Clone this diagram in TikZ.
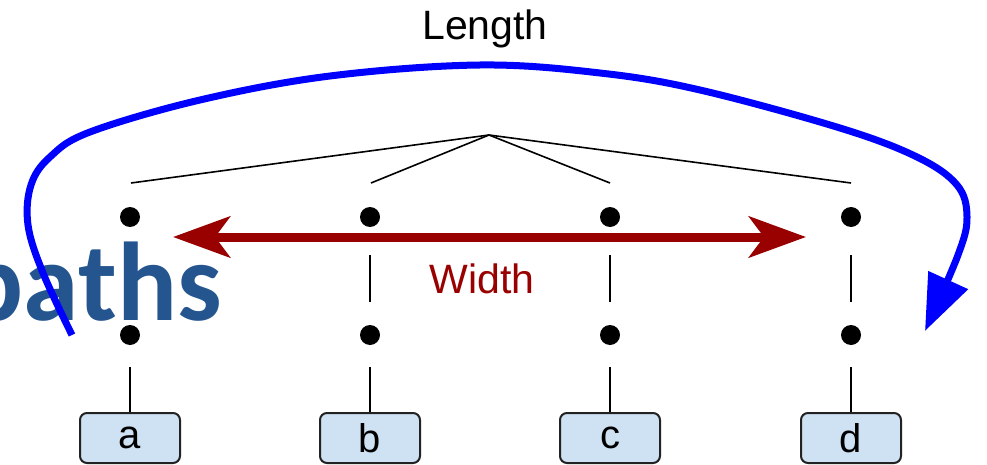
\documentclass[tikz,border=0pt]{standalone}
\usepackage{fontspec}
\setmainfont{Liberation Sans}
\newfontfamily\pathsfont{Carlito}
\usetikzlibrary{arrows.meta}
\definecolor{boxfill}{HTML}{CFE2F3}
\definecolor{boxline}{HTML}{222222}
\definecolor{darkred}{HTML}{990000}
\definecolor{pathsblue}{HTML}{24558F}
\definecolor{curveblue}{HTML}{0000FF}
\begin{document}
\begin{tikzpicture}[x=1pt,y=-1pt,
  dotnode/.style={circle,fill=black,inner sep=0pt,minimum size=20pt},
  leafbox/.style={draw=boxline,fill=boxfill,line width=2pt,rounded corners=7pt,
    minimum width=100pt,minimum height=50pt,inner sep=0pt,
    font=\fontsize{40}{44}\selectfont},
  treeline/.style={line width=1.6pt},
  biglabel/.style={font=\fontsize{41}{46}\selectfont,inner sep=0pt}]
\useasboundingbox (0,0) rectangle (987,465);
% tree top
\coordinate (root) at (489,135);
\coordinate (ta) at (131,183);
\coordinate (tb) at (371,183);
\coordinate (tc) at (610,183);
\coordinate (td) at (851,183);
\foreach \t in {ta,tb,tc,td} \draw[treeline] (root) -- (\t);
% columns
\foreach \n/\x in {a/130,b/370,c/610,d/851}{
  \node[dotnode] (u\n) at (\x,217) {};
  \node[dotnode] (l\n) at (\x,335) {};
  \node[leafbox] (box\n) at (\x,438) {\n};
  \draw[treeline,shorten <=28pt,shorten >=23pt] (u\n) -- (l\n);
  \draw[treeline,shorten <=22pt] (l\n) -- (box\n);
}
% width arrow
\coordinate (wl) at (173,237);
\coordinate (wr) at (806,237);
\draw[darkred,line width=9pt,
  {Stealth[length=57pt,width=41pt,inset=15pt]}-{Stealth[length=57pt,width=41pt,inset=15pt]}]
  (wl) -- (wr);
\node[biglabel,text=darkred,anchor=base] (width) at (482,293) {Width};
\node[biglabel,anchor=base] (length) at (485,40) {Length};
% paths text
\node[anchor=base east,inner sep=0pt,text=pathsblue,
  font=\pathsfont\bfseries\fontsize{112}{120}\selectfont] (paths) at (222,320) {paths};
% blue curve
\draw[curveblue,line width=7pt,-{Triangle[length=56pt,width=42pt]}]
  plot[smooth,tension=0.6] coordinates {(72,335) (43,273) (28,225) (31,185) (50,157)
   (90,132) (200,100) (330,76) (480,65) (600,73) (700,90) (840,128) (917,157)
   (957,185) (967,217) (958,255) (925,331)};
\end{tikzpicture}
\end{document}
